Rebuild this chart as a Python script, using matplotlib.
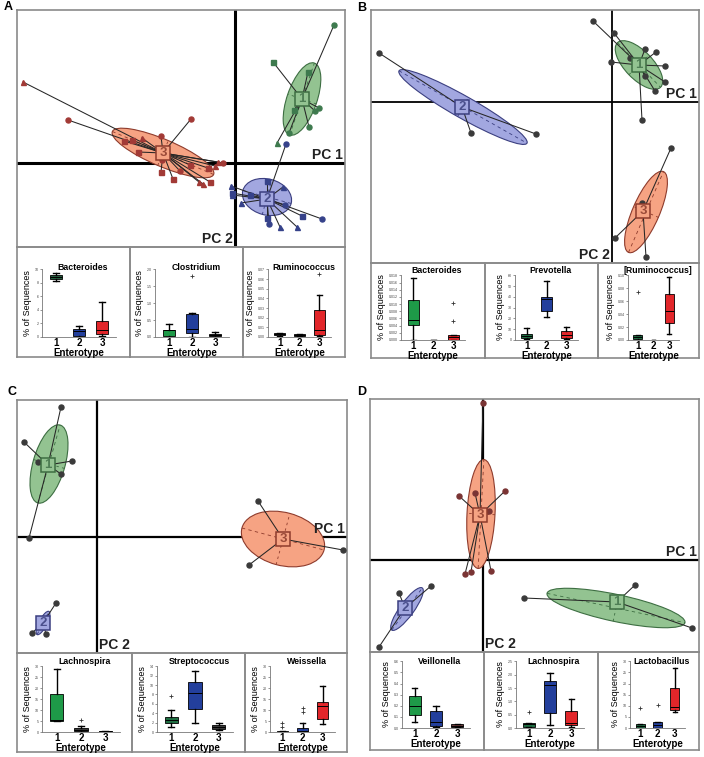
import matplotlib.pyplot as plt
from matplotlib.patches import Ellipse
from matplotlib.ticker import FormatStrFormatter
import numpy as np

plt.rcParams['font.family'] = ['Liberation Sans', 'DejaVu Sans']

# ---------------- PCA data (PC1, PC2 scores) ----------------
# panel A
a1_c = (0.67, 0.64)
a1_x = [0.99, 0.38, 0.73, 0.84, 0.80, 0.59, 0.74, 0.54, 0.42]
a1_y = [1.38, 1.01, 0.91, 0.55, 0.52, 0.53, 0.36, 0.30, 0.20]
a1_m = ['o', 's', 's', 'o', 'o', 's', 'o', 'o', '^']
a1_e = (0.67, 0.64, 0.76, 0.30, 71)

a2_c = (0.32, -0.36)
a2_x = [0.51, -0.04, -0.03, -0.03, 0.32, 0.48, 0.87, 0.67, 0.62, 0.45, 0.34, 0.32, 0.06, 0.15, 0.50]
a2_y = [0.19, -0.23, -0.30, -0.32, -0.18, -0.24, -0.56, -0.53, -0.64, -0.64, -0.61, -0.55, -0.40, -0.32, -0.42]
a2_m = ['o', '^', 's', '^', 's', '^', 'o', 's', '^', '^', 'o', 's', '^', 's', 'o']
a2_e = (0.32, -0.34, 0.50, 0.36, -15)

a3_c = (-0.72, 0.10)
a3_x = [-2.12, -1.67, -0.44, -0.93, -1.11, -1.03, -0.74, -0.97, -0.12, -0.17,
        -0.27, -0.74, -0.55, -0.62, -0.32, -0.25, -0.36, -0.73, -0.45, -0.20]
a3_y = [0.81, 0.43, 0.44, 0.25, 0.22, 0.23, 0.27, 0.11, 0.00, 0.01,
        -0.05, -0.09, -0.08, -0.16, -0.21, -0.19, -0.19, 0.03, -0.02, -0.03]
a3_m = ['^', 'o', 'o', '^', 's', 's', 'o', 's', 'o', '^',
        's', 's', 'o', 's', '^', 's', '^', 'o', 's', '^']
a3_e = (-0.72, 0.10, 1.10, 0.27, -23)

# panel B
b1_c = (0.27, 0.37)
b1_x = [-0.19, 0.02, -0.01, 0.33, 0.44, 0.53, 0.53, 0.43, 0.30, 0.33, 0.18]
b1_y = [0.81, 0.69, 0.40, 0.53, 0.50, 0.36, 0.20, 0.11, -0.18, 0.26, 0.44]
b1_e = (0.27, 0.37, 0.62, 0.28, -46)
b2_c = (-1.50, -0.05)
b2_x = [-2.33, -1.41, -0.76]
b2_y = [0.49, -0.31, -0.32]
b2_e = (-1.49, -0.05, 1.47, 0.22, -29.5)
b3_c = (0.31, -1.09)
b3_x = [0.59, 0.03, 0.34, 0.30]
b3_y = [-0.46, -1.36, -1.55, -1.01]
b3_e = (0.34, -1.10, 0.88, 0.27, 66.6)

# panel C
c1_c = (-0.49, 0.72)
c1_x = [-0.36, -0.73, -0.25, -0.68, -0.59, -0.36]
c1_y = [1.30, 0.95, 0.76, -0.01, 0.75, 0.63]
c1_e = (-0.48, 0.73, 0.81, 0.32, 74)
c2_c = (-0.54, -0.86)
c2_x = [-0.41, -0.65, -0.51]
c2_y = [-0.66, -0.96, -0.97]
c2_e = (-0.54, -0.86, 0.26, 0.08, 63)
c3_c = (1.86, -0.02)
c3_x = [1.61, 2.46, 1.52]
c3_y = [0.36, -0.13, -0.28]
c3_e = (1.86, -0.02, 0.85, 0.53, -15)

# panel D
d1_c = (1.34, -0.42)
d1_x = [0.41, 1.52, 2.09]
d1_y = [-0.38, -0.25, -0.68]
d1_e = (1.33, -0.48, 1.41, 0.27, -12)
d2_c = (-0.78, -0.48)
d2_x = [-0.84, -0.52, -1.04]
d2_y = [-0.33, -0.26, -0.87]
d2_e = (-0.76, -0.49, 0.52, 0.14, 54)
d3_c = (-0.03, 0.45)
d3_x = [0.00, -0.24, -0.08, 0.22, 0.06, -0.18, -0.12, 0.08]
d3_y = [1.57, 0.64, 0.67, 0.69, 0.49, -0.14, -0.12, -0.11]
d3_e = (-0.02, 0.46, 1.09, 0.28, 87)

# ---------------- box plot data (% of sequences) ----------------
enterotypes = ['1', '2', '3']
genera_a = ['Bacteroides', 'Clostridium', 'Ruminococcus']
genera_b = ['Bacteroides', 'Prevotella', '[Ruminococcus]']
genera_c = ['Lachnospira', 'Streptococcus', 'Weissella']
genera_d = ['Veillonella', 'Lachnospira', 'Lactobacillus']

# each: [q1, med, q3, whislo, whishi] for enterotypes 1,2,3
a_bact = [[8.6, 8.9, 9.2, 8.3, 9.5], [0.15, 0.9, 1.2, 0.0, 1.6], [0.4, 1.0, 2.4, 0.2, 5.2]]
a_clos = [[0.02, 0.2, 0.22, 0.0, 0.38], [0.12, 0.25, 0.68, 0.0, 0.7], [0.03, 0.06, 0.08, 0.0, 0.15]]
a_rumi = [[0.002, 0.003, 0.004, 0.001, 0.004], [0.0015, 0.0025, 0.003, 0.001, 0.003], [0.002, 0.007, 0.028, 0.001, 0.043]]
a_flier = [[[], [], []], [[], [1.8], []], [[], [], [0.065]]]

b_bact = [[0.0042, 0.0055, 0.011, 0.0, 0.0172], [0.0, 0.0001, 0.0001, 0.0, 0.0001], [0.0, 0.0008, 0.0015, 0.0, 0.0015]]
b_prev = [[1.5, 3.5, 5.5, 0.5, 11], [26.5, 38, 39.5, 21.5, 55], [2, 4.5, 8, 1, 12]]
b_rumi = [[0.001, 0.005, 0.008, 0.0, 0.008], [0.0, 0.0003, 0.0005, 0.0, 0.0005], [0.027, 0.045, 0.071, 0.01, 0.098]]
b_flier = [[[], [], [0.0054, 0.0103]], [[], [], []], [[0.074], [], []]]

c_lach = [[5, 5.5, 17.5, 5, 29], [0.3, 1.0, 1.8, 0, 2.6], [0.1, 0.3, 0.5, 0, 0.6]]
c_stre = [[2, 2.6, 3.2, 1.1, 4.6], [5, 8.3, 10.7, 2, 13], [0.6, 1.0, 1.4, 0.5, 1.9]]
c_weis = [[0, 0.2, 0.5, 0, 0.5], [0, 0.5, 1.8, 0, 4.2], [6, 12, 13.5, 3.5, 21]]
c_flier = [[[], [5.5], []], [[7.7], [], []], [[2.5, 4], [9, 10.8], []]]

d_veil = [[0.12, 0.2, 0.29, 0.05, 0.36], [0.02, 0.05, 0.15, 0.01, 0.2], [0.01, 0.02, 0.035, 0.01, 0.04]]
d_lach = [[0.05, 0.15, 0.2, 0.02, 0.2], [0.55, 1.6, 1.78, 0.1, 2.05], [0.1, 0.2, 0.65, 0.05, 1.1]]
d_lact = [[0.2, 0.8, 1.8, 0, 1.8], [0.2, 1.5, 2.5, 0, 2.5], [8, 9.5, 18, 7, 27]]
d_flier = [[[], [], []], [[0.6], [], []], [[8.8], [10.3], []]]

a_ylim = [10, 2.0, 0.07]
b_ylim = [0.018, 60, 0.10]
c_ylim = [30, 14, 30]
d_ylim = [0.6, 2.5, 30]
a_step = [2, 0.5, 0.01]
b_step = [0.002, 10, 0.02]
c_step = [5, 2, 5]
d_step = [0.1, 0.5, 5]
a_fmt = ['%d', '%.1f', '%.2f']
b_fmt = ['%.3f', '%d', '%.2f']
c_fmt = ['%d', '%d', '%d']
d_fmt = ['%.1f', '%.1f', '%d']

GRN, BLU, RED, DRK, DGR = '#1e9a48', '#233f9c', '#e2262a', '#3a3a3a', '#1f6e42'
a_cols = [['#235c3c', BLU, RED], [GRN, BLU, DRK], [DRK, DRK, RED]]
b_cols = [[GRN, DRK, RED], [DGR, BLU, RED], [DGR, DRK, RED]]
c_cols = [[GRN, DRK, DRK], [DGR, BLU, DRK], [DRK, BLU, RED]]
d_cols = [[GRN, BLU, '#6a3a3a'], [DGR, BLU, RED], [DGR, BLU, RED]]

FILL = {1: '#93c391', 2: '#a2a7e0', 3: '#f6a383'}
EDGE = {1: '#3d6e42', 2: '#3b3f80', 3: '#8e3b2c'}
SQTX = {1: '#4f7f55', 2: '#4a4f8c', 3: '#9a4a38'}

W, H = 704, 757
fig = plt.figure(figsize=(W / 100, H / 100), dpi=100)


def px_axes(x0, y0, x1, y1):
    return fig.add_axes([x0 / W, 1 - y1 / H, (x1 - x0) / W, (y1 - y0) / H])


def pca_panel(box, origin, axis_lw, pc2_left, letter, letter_xy):
    x0, y0, x1, y1 = box
    ox, oy = origin
    ax = px_axes(x0, y0, x1, y1)
    ax.set_xlim((x0 - ox) / 100, (x1 - ox) / 100)
    ax.set_ylim((oy - y1) / 100, (oy - y0) / 100)
    ax.set_xticks([])
    ax.set_yticks([])
    for s in ax.spines.values():
        s.set_color('#8a8a8a')
        s.set_linewidth(1.2)
    ax.axhline(0, color='black', lw=axis_lw, zorder=1)
    ax.axvline(0, color='black', lw=axis_lw, zorder=1)
    ax.text(0.995, 0.012, 'PC 1', transform=ax.get_yaxis_transform(), ha='right',
            va='bottom', fontsize=10, fontweight='bold', color='#222')
    tr = ax.get_xaxis_transform()
    if pc2_left:
        ax.text(-0.02, 0.005, 'PC 2', transform=tr, ha='right', va='bottom',
                fontsize=10, fontweight='bold', color='#222')
    else:
        ax.text(0.02, 0.005, 'PC 2', transform=tr, ha='left', va='bottom',
                fontsize=10, fontweight='bold', color='#222')
    fig.text(letter_xy[0] / W, 1 - letter_xy[1] / H, letter, fontsize=9,
             fontweight='bold', ha='left', va='center')
    return ax


def cluster(ax, k, cen, xs, ys, ell, marks=None, pcol='#3a3a3a'):
    ex, ey, w, h, ang = ell
    ax.add_patch(Ellipse((ex, ey), w, h, angle=ang, fc=FILL[k], ec=EDGE[k],
                         lw=0.8, zorder=2))
    t = np.deg2rad(ang)
    ax.plot([ex - w / 2 * np.cos(t), ex + w / 2 * np.cos(t)],
            [ey - w / 2 * np.sin(t), ey + w / 2 * np.sin(t)],
            ls=(0, (4, 4)), color=EDGE[k], lw=0.6, zorder=3)
    ax.plot([ex + h / 2 * np.sin(t), ex - h / 2 * np.sin(t)],
            [ey - h / 2 * np.cos(t), ey + h / 2 * np.cos(t)],
            ls=(0, (3, 4)), color=EDGE[k], lw=0.6, zorder=3)
    if marks is None:
        marks = ['o'] * len(xs)
    for x, y, m in zip(xs, ys, marks):
        ax.plot([cen[0], x], [cen[1], y], color='#262626', lw=0.75, zorder=4)
        ax.plot(x, y, marker=m, ms=3.6, color=pcol, ls='none', zorder=5)
    ax.plot(cen[0], cen[1], marker='s', ms=10, mfc=FILL[k], mec=EDGE[k], mew=1.1,
            ls='none', zorder=6)
    ax.text(cen[0], cen[1], str(k), ha='center', va='center', fontsize=9.5,
            fontweight='bold', color=SQTX[k], zorder=7)


def box_row(cells, yrow, inset, title_dy, genera, datas, fliers, cols, ylims, steps, fmts):
    top, bot = yrow
    li, ti, ri, bi = inset
    for i in range(3):
        cx0, cx1 = cells[i], cells[i + 1]
        fr = px_axes(cx0, top, cx1, bot)
        fr.set_xticks([])
        fr.set_yticks([])
        fr.patch.set_alpha(0)
        for s in fr.spines.values():
            s.set_color('#8a8a8a')
            s.set_linewidth(1.2)
        ax = px_axes(cx0 + li, top + ti, cx1 - ri, bot - bi)
        stats = []
        for j in range(3):
            q1, med, q3, lo, hi = datas[i][j]
            stats.append(dict(q1=q1, med=med, q3=q3, whislo=lo, whishi=hi,
                              fliers=fliers[i][j], label=enterotypes[j]))
        bp = ax.bxp(stats, positions=[1, 2, 3], widths=0.55, patch_artist=True,
                    boxprops=dict(lw=0.6, ec='black'),
                    medianprops=dict(color='black', lw=0.7),
                    whiskerprops=dict(lw=1.0, color='black'),
                    capprops=dict(lw=1.0, color='black'),
                    flierprops=dict(marker='+', ms=2.5, mec='#333', mew=0.6),
                    capwidths=0.25)
        for patch, c in zip(bp['boxes'], cols[i]):
            patch.set_facecolor(c)
        ax.set_xlim(0.4, 3.6)
        ax.set_ylim(0, ylims[i] * 1.005)
        ax.set_yticks(np.arange(0, ylims[i] + steps[i] / 2, steps[i]))
        ax.yaxis.set_major_formatter(FormatStrFormatter(fmts[i]))
        ax.tick_params(axis='y', labelsize=2.6, length=1.5, width=0.4, pad=1,
                       colors='#444')
        ax.tick_params(axis='x', labelsize=7, length=0, pad=1)
        for lb in ax.get_xticklabels():
            lb.set_fontweight('bold')
        for s in ['top', 'right']:
            ax.spines[s].set_visible(False)
        for s in ['left', 'bottom']:
            ax.spines[s].set_color('#777')
            ax.spines[s].set_linewidth(0.6)
        ax.set_xlabel('Enterotype', fontsize=7, fontweight='bold', labelpad=0)
        ax.set_ylabel('% of Sequences', fontsize=6.5, labelpad=1.5)
        mid = (cx0 + li + cx1 - ri) / 2 + 4
        fig.text(mid / W, 1 - (top + title_dy) / H, genera[i], fontsize=6.3,
                 fontweight='bold', ha='center', va='center')


# ---------- Panel A ----------
axA = pca_panel((17, 10, 345, 247), (235, 163), 2.2, True, 'A', (4, 7))
cluster(axA, 3, a3_c, a3_x, a3_y, a3_e, a3_m, '#a23a36')
cluster(axA, 1, a1_c, a1_x, a1_y, a1_e, a1_m, '#3e7a4e')
cluster(axA, 2, a2_c, a2_x, a2_y, a2_e, a2_m, '#36428a')
box_row([17, 130, 243, 345], (247, 357), (25, 22, 14, 20), 20, genera_a,
        [a_bact, a_clos, a_rumi], a_flier, a_cols, a_ylim, a_step, a_fmt)

# ---------- Panel B ----------
axB = pca_panel((371, 10, 699, 263), (612, 102), 1.3, True, 'B', (357, 8))
cluster(axB, 2, b2_c, b2_x, b2_y, b2_e)
cluster(axB, 1, b1_c, b1_x, b1_y, b1_e)
cluster(axB, 3, b3_c, b3_x, b3_y, b3_e)
box_row([371, 485, 598, 699], (263, 358), (30, 12, 20, 18), 7, genera_b,
        [b_bact, b_prev, b_rumi], b_flier, b_cols, b_ylim, b_step, b_fmt)

# ---------- Panel C ----------
axC = pca_panel((17, 400, 347, 653), (97, 537), 1.6, False, 'C', (7, 392))
cluster(axC, 1, c1_c, c1_x, c1_y, c1_e)
cluster(axC, 2, c2_c, c2_x, c2_y, c2_e)
cluster(axC, 3, c3_c, c3_x, c3_y, c3_e)
box_row([17, 132, 245, 347], (653, 752), (25, 13, 12, 20), 8, genera_c,
        [c_lach, c_stre, c_weis], c_flier, c_cols, c_ylim, c_step, c_fmt)

# ---------- Panel D ----------
axD = pca_panel((370, 399, 699, 652), (483, 560), 1.6, False, 'D', (357, 392))
cluster(axD, 3, d3_c, d3_x, d3_y, d3_e, pcol='#7a3434')
cluster(axD, 1, d1_c, d1_x, d1_y, d1_e)
cluster(axD, 2, d2_c, d2_x, d2_y, d2_e)
box_row([370, 484, 598, 699], (652, 750), (32, 9, 14, 22), 9, genera_d,
        [d_veil, d_lach, d_lact], d_flier, d_cols, d_ylim, d_step, d_fmt)

fig.savefig('out.png', dpi=100)
